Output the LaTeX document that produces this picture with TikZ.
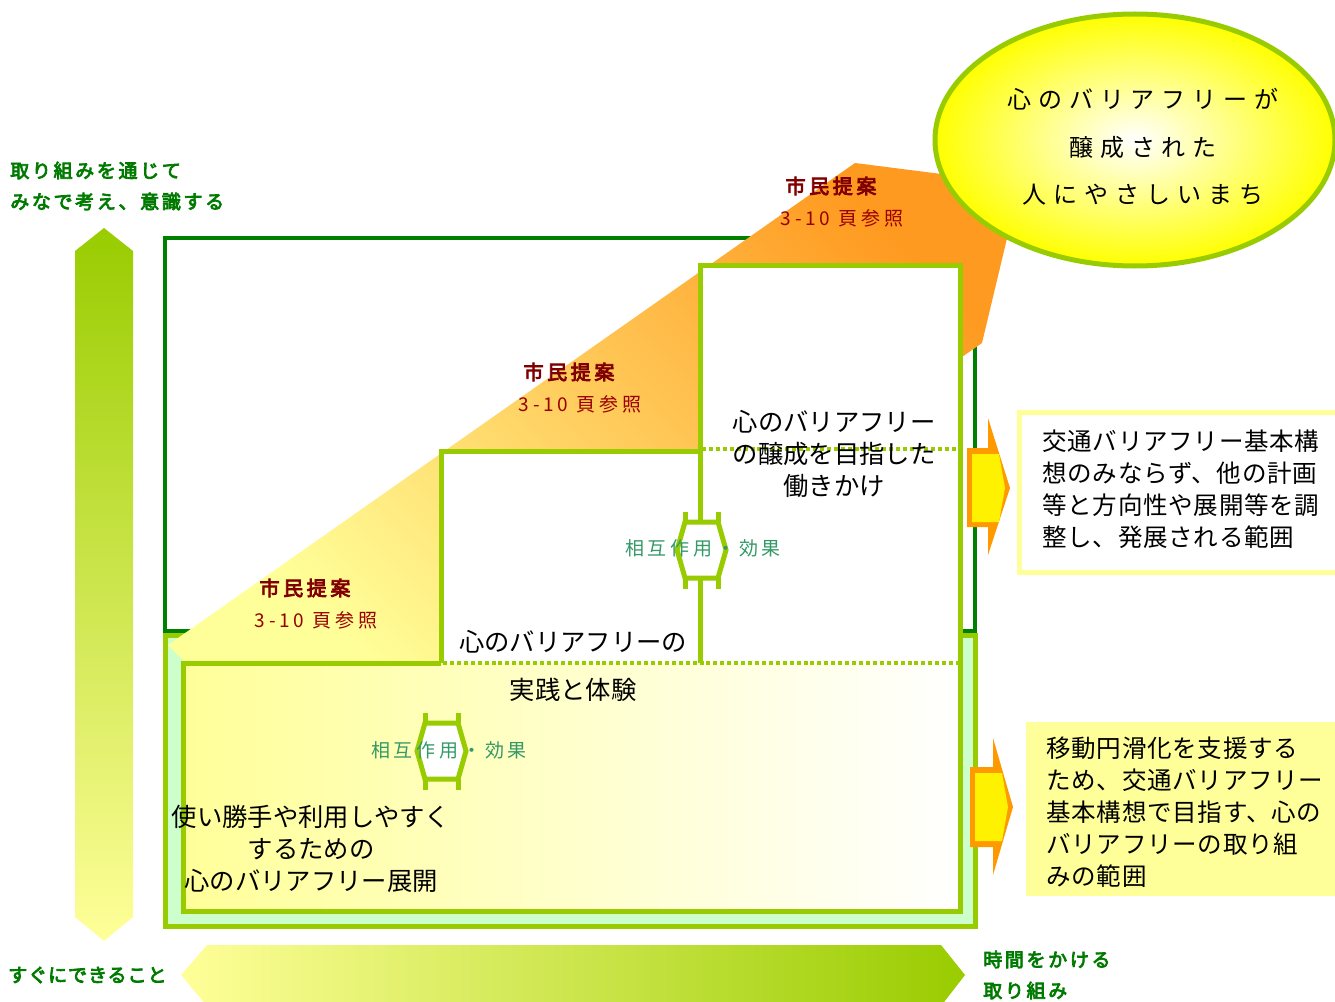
\documentclass[tikz,border=0pt]{standalone}
\usepackage{fontspec}
\setmainfont{Noto Sans CJK JP}
\newfontfamily\jp{Noto Sans CJK JP}
\newfontfamily\jpb{Noto Sans CJK JP}[FakeBold=4]
\definecolor{dkgreen}{HTML}{008000}
\definecolor{lgreen}{HTML}{99CC00}
\definecolor{mint}{HTML}{CCFFCC}
\definecolor{pyellow}{HTML}{FFFF99}
\definecolor{orng}{HTML}{FF9900}
\definecolor{orng2}{HTML}{FF9A20}
\definecolor{dkred}{HTML}{990000}
\definecolor{redb}{HTML}{800000}
\definecolor{tealg}{HTML}{339966}
\definecolor{txtgreen}{HTML}{007A00}
\begin{document}
\begin{tikzpicture}[x=0.75pt,y=-0.75pt,
  greenbar/.style={lgreen, line width=3.75pt},
  dotline/.style={lgreen, line width=3pt, dash pattern=on 3pt off 2.2pt},
  axislbl/.style={inner sep=0pt, anchor=west, align=left, text=txtgreen,
    font={\jpb\addfontfeatures{LetterSpace=14}\fontsize{14.25pt}{23.25pt}\selectfont}},
  propA/.style={inner sep=0pt, text=redb,
    font={\jpb\addfontfeatures{LetterSpace=18}\fontsize{15pt}{18pt}\selectfont}},
  propB/.style={inner sep=0pt, text=dkred,
    font={\jp\addfontfeatures{LetterSpace=20}\fontsize{14.25pt}{18pt}\selectfont}},
  effect/.style={inner sep=0pt, text=tealg,
    font={\jp\addfontfeatures{LetterSpace=20}\fontsize{14.25pt}{18pt}\selectfont}},
  boxtxt/.style={inner sep=0pt, align=center, text=black,
    font={\jp\fontsize{19pt}{24pt}\selectfont}},
  sidetxt/.style={inner sep=0pt, anchor=west, align=left, text=black,
    font={\jp\addfontfeatures{LetterSpace=3}\fontsize{18.4pt}{24pt}\selectfont}},
  goaltxt/.style={inner sep=0pt, align=center, text=black,
    font={\jp\addfontfeatures{LetterSpace=29}\fontsize{18pt}{35.6pt}\selectfont}}
]
\useasboundingbox (0,0) rectangle (1335,1002);

% vertical axis arrow
\shade[top color=lgreen, bottom color=pyellow]
  (104,228) -- (133,251) -- (133,917) -- (104,941) -- (75,917) -- (75,251) -- cycle;
% horizontal axis arrow
\shade[left color=pyellow, right color=lgreen]
  (181,975) -- (207,945) -- (941,945) -- (965,975) -- (941,1006) -- (207,1006) -- cycle;

% outer boxes
\draw[dkgreen, line width=3pt] (165,238) rectangle (975,631);
\draw[greenbar, fill=mint] (165,635) rectangle (975,926);

% orange diagonal arrow
\shade[top color=orng2, bottom color=pyellow, shading angle=-45]
  (168,645) -- (855,163) -- (1020,184) -- (982,343) -- (962,357) -- (962,663) -- (183,663) -- (183,660) -- cycle;

% inner lower box
\shade[left color=pyellow, right color=white] (183,663) rectangle (960,911);
\draw[greenbar] (441,663) -- (183,663) -- (183,911) -- (960,911) -- (960,663);
% middle box
\fill[white] (441,451) rectangle (700,663);
\draw[greenbar] (441,663) -- (441,451) -- (700,451);
% right box
\fill[white] (700,265) rectangle (960,663);
\draw[greenbar] (700,663) -- (700,265) -- (960,265) -- (960,911);
% dotted lines
\draw[dotline] (443,663) -- (958,663);
\draw[dotline] (702,449) -- (958,449);

% interaction symbols
\foreach \cx/\cy in {701/550, 441/751} {
  \begin{scope}[shift={(\cx,\cy)}]
    \draw[greenbar, fill=white] (-16,-28) -- (-24,0) -- (-16,28) -- (17,28) -- (25,0) -- (17,-28) -- cycle;
    \draw[greenbar] (-16,-38) -- (-16,-28) (17,-38) -- (17,-28);
    \draw[greenbar] (-16,28) -- (-16,39) (17,28) -- (17,39);
  \end{scope}
}

% right arrows
\fill[orng] (967,448) -- (988,448) -- (988,418) -- (1010,488) -- (988,555) -- (988,527) -- (967,527) -- cycle;
\fill[yellow] (972,454) -- (999,454) -- (1005,488) -- (999,522) -- (972,522) -- cycle;
\fill[orng] (970,767) -- (993,767) -- (993,738) -- (1013,807) -- (993,875) -- (993,847) -- (970,847) -- cycle;
\fill[yellow] (975,773) -- (1002,773) -- (1008,807) -- (1002,841) -- (975,841) -- cycle;

% side boxes
\draw[pyellow, line width=3.75pt, fill=white] (1019,412) rectangle (1345,572);
\fill[pyellow] (1026,722) rectangle (1345,896);

% goal ellipse
\shadedraw[draw=lgreen, line width=3.75pt, inner color=white, outer color=yellow]
  (1135,140) ellipse [x radius=200, y radius=126];

% texts
\node[axislbl] (ytop) at (10,186) {取り組みを通じて\\みなで考え、意識する};
\node[axislbl, font={\jpb\addfontfeatures{LetterSpace=5}\fontsize{14.25pt}{23.25pt}\selectfont}] (xleft) at (8,975) {すぐにできること};
\node[axislbl] (xright) at (983,975) {時間をかける\\取り組み};

\node[propA] (p1a) at (831,186) {市民提案};
\node[propB] (p1b) at (842,218) {3-10 頁参照};
\node[propA] (p2a) at (569,372) {市民提案};
\node[propB] (p2b) at (580,404) {3-10 頁参照};
\node[propA] (p3a) at (305,588) {市民提案};
\node[propB] (p3b) at (316,620) {3-10 頁参照};

\node[boxtxt] (work) at (834,454) {心のバリアフリー\\の醸成を目指した\\働きかけ};
\node[boxtxt] (prac1) at (573,642) {心のバリアフリーの};
\node[boxtxt] (prac2) at (573,690) {実践と体験};
\node[boxtxt] (dev) at (311,849) {使い勝手や利用しやすく\\するための\\心のバリアフリー展開};

\node[effect] (eff1) at (703,548) {相互作用・効果};
\node[effect] (eff2) at (449,750) {相互作用・効果};

\node[sidetxt] (side1) at (1042,489) {交通バリアフリー基本構\\想のみならず、他の計画\\等と方向性や展開等を調\\整し、発展される範囲};
\node[sidetxt] (side2) at (1046,812) {移動円滑化を支援する\\ため、交通バリアフリー\\基本構想で目指す、心の\\バリアフリーの取り組\\みの範囲};

\node[goaltxt] (goal) at (1143,147) {心のバリアフリーが\\醸成された\\人にやさしいまち};
\end{tikzpicture}
\end{document}
